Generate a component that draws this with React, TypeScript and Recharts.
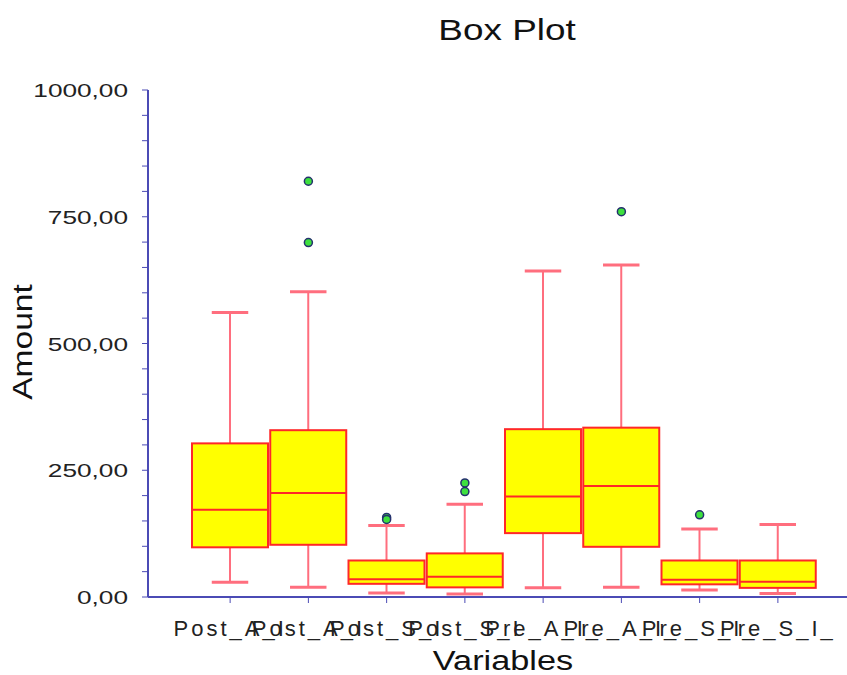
import { ComposedChart, Bar, Scatter, XAxis, YAxis } from "recharts";

const ids = ["v1", "v2", "v3", "v4", "v5", "v6", "v7", "v8"];
const labels = ["Post_A_I", "Post_A_I", "Post_S_I", "Post_S_I", "Pre_A_I_", "Pre_A_I_", "Pre_S_I_", "Pre_S_I_"];
const mins = [29, 19, 8, 6, 18, 19, 14, 7];
const q1s = [98, 103, 26, 19, 126, 99, 25, 18];
const medians = [172, 205, 35, 40, 198, 219, 34, 30];
const q3s = [303, 329, 72, 86, 331, 334, 72, 72];
const maxs = [561, 602, 141, 183, 643, 655, 134, 143];
const outliers1: (number | null)[] = [null, 820, 157, 225, null, 760, 162, null];
const outliers2: (number | null)[] = [null, 699, 153, 208, null, null, null, null];
const yTicks = [0, 50, 100, 150, 200, 250, 300, 350, 400, 450, 500, 550, 600, 650, 700, 750, 800, 850, 900, 950, 1000];
const yLabelled = [0, 250, 500, 750, 1000];

const data = ids.map((id, i) => ({
  id,
  label: labels[i],
  min: mins[i],
  q1: q1s[i],
  median: medians[i],
  q3: q3s[i],
  max: maxs[i],
  o1: outliers1[i],
  o2: outliers2[i],
}));

const AXIS = "#4b4bb5";
const FONT = "'Liberation Sans', Arial, Helvetica, sans-serif";
const WHISKER = "#ff6e7e";
const BOX_LINE = "#ff2828";

function BoxShape(props: any) {
  const { x, y, width, height, payload } = props;
  const d = payload;
  const unit = Math.abs(height) / (d.max - d.min);
  const yAt = (v: number) => y + (d.max - v) * unit;
  const cx = x + width / 2;
  const cap = width * 0.24;
  return (
    <g>
      <line x1={cx} x2={cx} y1={yAt(d.max)} y2={yAt(d.q3)} stroke={WHISKER} strokeWidth={2} />
      <line x1={cx} x2={cx} y1={yAt(d.q1)} y2={yAt(d.min)} stroke={WHISKER} strokeWidth={2} />
      <line x1={cx - cap} x2={cx + cap} y1={yAt(d.max)} y2={yAt(d.max)} stroke={WHISKER} strokeWidth={3} />
      <line x1={cx - cap} x2={cx + cap} y1={yAt(d.min)} y2={yAt(d.min)} stroke={WHISKER} strokeWidth={3} />
      <rect x={x} y={yAt(d.q3)} width={width} height={yAt(d.q1) - yAt(d.q3)} fill="#ffff00" stroke={BOX_LINE} strokeWidth={2} />
      <line x1={x} x2={x + width} y1={yAt(d.median)} y2={yAt(d.median)} stroke={BOX_LINE} strokeWidth={2} />
    </g>
  );
}

const outlierShape = (key: string) => (p: any) => {
  if (p.payload == null || p.payload[key] == null || p.cy == null || isNaN(p.cy)) return <g />;
  return <circle cx={p.cx} cy={p.cy} r={4} fill="#3ee03e" stroke="#24306e" strokeWidth={1.5} />;
};

function YTick(props: any) {
  const { x, y, payload } = props;
  if (!yLabelled.includes(payload.value)) return <g />;
  const text = payload.value.toFixed(2).replace(".", ",");
  return (
    <g transform={`translate(${x},${y}) scale(1.38,1)`}>
      <text x={0} y={0} dy={7} textAnchor="end" fontSize={19} fontFamily={FONT} fill="#222">
        {text}
      </text>
    </g>
  );
}

function XTick(props: any) {
  const { x, y, payload } = props;
  const entry = data.find((d) => d.id === payload.value);
  return (
    <text x={x} y={y} dy={33} textAnchor="middle" fontSize={22} letterSpacing={3} fontFamily={FONT} fill="#222">
      {entry ? entry.label : ""}
    </text>
  );
}

export default function App() {
  return (
    <div style={{ position: "absolute", left: 0, top: 0, width: 847, height: 675, background: "#fff" }}>
      <ComposedChart width={847} height={675} data={data} margin={{ top: 90, right: 0, bottom: 0, left: 0 }}>
        <XAxis
          dataKey="id"
          type="category"
          height={78}
          padding={{ left: 43, right: 30 }}
          axisLine={{ stroke: AXIS, strokeWidth: 2 }}
          tickLine={{ stroke: AXIS }}
          tickSize={6}
          tickMargin={0}
          tick={<XTick />}
          interval={0}
        />
        <YAxis
          type="number"
          domain={[0, 1000]}
          ticks={yTicks}
          interval={0}
          width={148}
          axisLine={{ stroke: AXIS, strokeWidth: 2 }}
          tickLine={{ stroke: AXIS }}
          tickSize={6}
          tickMargin={14}
          tick={<YTick />}
        />
        <Bar dataKey={(d: any) => [d.min, d.max]} barSize={76} shape={<BoxShape />} isAnimationActive={false} />
        <Scatter dataKey="o1" shape={outlierShape("o1")} isAnimationActive={false} />
        <Scatter dataKey="o2" shape={outlierShape("o2")} isAnimationActive={false} />
      </ComposedChart>
      <svg width={847} height={675} style={{ position: "absolute", left: 0, top: 0, pointerEvents: "none" }}>
        <g transform="translate(507,40) scale(1.23,1)">
          <text textAnchor="middle" fontSize={30} fontFamily={FONT} fill="#111">Box Plot</text>
        </g>
        <g transform="translate(503,670) scale(1.27,1)">
          <text textAnchor="middle" fontSize={27} fontFamily={FONT} fill="#111">Variables</text>
        </g>
        <g transform="translate(32,342) rotate(-90) scale(1.2,1)">
          <text textAnchor="middle" fontSize={28} fontFamily={FONT} fill="#111">Amount</text>
        </g>
      </svg>
    </div>
  );
}
